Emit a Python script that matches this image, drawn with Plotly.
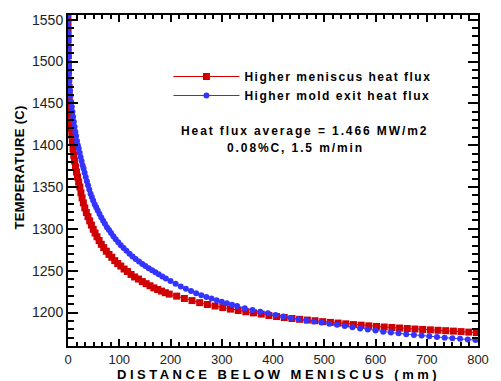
import plotly.graph_objects as go

# Surface temperature profiles down the mold (distance in mm, temperature in C)
meniscus_x = [0, 0.1, 0.2, 0.3, 0.45, 0.6, 0.8, 1.0, 1.3, 1.6, 2.0, 2.5,
              3.2, 4.2, 5.2, 6.3, 7.5, 8.6, 9.8, 11.2, 12.8, 14.6, 16.5, 18.5,
              20.8, 23.2, 25.3, 27.5, 30, 32.8, 35.8, 39, 42.3, 45.7, 49.2, 52.8,
              56.6, 60.7, 65, 69.7, 74.8, 80, 85.5, 91.2, 97, 103, 109.5, 116,
              123, 130, 137.5, 145, 152.5, 160, 167.5, 175, 182.5, 190, 197.5,
              212, 227, 242, 257, 272, 287, 302, 317, 332, 347, 362, 377, 392,
              407, 422, 437, 452, 467, 482, 497, 512, 527, 542, 557, 572, 587,
              602, 617, 632, 647, 662, 677, 692, 707, 722, 737, 752, 767, 782, 797]
meniscus_t = [1555, 1545, 1535, 1526, 1516, 1507, 1497, 1488, 1478, 1469, 1460, 1452,
              1444, 1436, 1428, 1420, 1412, 1404, 1396, 1388, 1381, 1374, 1368, 1362,
              1356, 1350, 1343, 1337, 1331, 1325, 1319.5, 1314.5, 1309.5, 1304.5, 1299.5, 1295,
              1290.5, 1286, 1281.5, 1277.5, 1273.3, 1269.5, 1266, 1262, 1258.5, 1255.5, 1252, 1249,
              1245.5, 1242.5, 1240, 1237, 1234.5, 1232, 1229.5, 1227.5, 1225.6, 1223.7, 1222,
              1219.6, 1216.8, 1214.3, 1211.8, 1209.6, 1207.8, 1205.9, 1204.1, 1202.4, 1200.9, 1199.6, 1198.1, 1196.5,
              1195.2, 1194, 1192.9, 1191.9, 1191, 1190.2, 1189.1, 1188.2, 1187.4, 1186.5, 1185.6, 1184.9, 1184.1,
              1183.4, 1182.7, 1182.1, 1181.5, 1180.9, 1180.3, 1179.8, 1179.3, 1178.8, 1178.3, 1177.8, 1177.2, 1176.6, 1176]

exit_x = [0, 0.1, 0.2, 0.35, 0.5, 0.7, 0.9, 1.1, 1.4, 1.7, 2.1, 2.6, 3.2, 4, 5,
          6.2, 7.4, 8.6, 10, 11.4, 12.8, 14.3, 15.8, 17.5, 19.2, 20.9, 22.8, 24.6, 26.5,
          28.4, 30.4, 32.4, 34.6, 36.8, 39, 41.5, 44, 46.5, 49,
          52, 55, 58, 61.5, 65, 68.5, 72, 76, 80, 84, 88.5, 93, 98, 103, 108.5, 114,
          120, 126, 132, 138.5, 145, 151, 157.5, 164, 170.5, 177, 184, 191,
          200, 210, 220, 230, 240, 250, 260, 270, 280, 290, 300, 310, 320, 330,
          345, 360, 375, 390, 405, 420, 435, 450, 465, 480, 495, 510, 525, 540, 555,
          570, 585, 600, 615, 630, 645, 660, 675, 690, 705, 720, 735, 750, 765, 780, 795]
exit_t = [1555, 1548, 1541, 1534, 1527, 1520, 1513, 1506, 1499, 1492, 1485, 1478, 1471, 1465, 1459,
          1452, 1446, 1440, 1434, 1428, 1422, 1416, 1411, 1405, 1400, 1396, 1391, 1386, 1381,
          1376, 1372, 1367, 1362, 1357, 1352, 1347, 1342, 1338, 1334,
          1329.5, 1325.7, 1322, 1317.8, 1313.7, 1309.7, 1306, 1302, 1298.5, 1295, 1291.3, 1287.7, 1284, 1280.5, 1277, 1273.7,
          1270.3, 1267, 1264, 1261, 1258, 1255.6, 1253, 1250.5, 1248, 1245.7, 1243.2, 1240.7,
          1237.6, 1234.3, 1231.2, 1228.3, 1225.6, 1223.1, 1220.8, 1218.7, 1216.7, 1214.8, 1213, 1211.2, 1209.4, 1207.7,
          1205.2, 1202.9, 1200.8, 1199, 1197, 1195.2, 1193.5, 1192, 1190.6, 1189.4, 1188, 1186.7, 1185.3, 1183.8, 1182.4,
          1181, 1179.7, 1178.4, 1177.1, 1176.1, 1175.1, 1174.1, 1173.2, 1172.4, 1171.6, 1170.8, 1170, 1169.3, 1168.6, 1167.8, 1167.1]

series_names = ["Higher meniscus heat flux", "Higher mold exit heat flux"]
note_lines = ["Heat flux average = 1.466 MW/m2", "0.08%C, 1.5 m/min"]
x_title = "DISTANCE BELOW MENISCUS (mm)"
y_title = "TEMPERATURE (C)"

RED = "#d00000"
BLUE = "#3434ff"
FONT = "Liberation Sans, Arial, sans-serif"


def spaced(text, px):
    return f'<span style="letter-spacing:{px}px">{text}</span>'


fig = go.Figure()
fig.add_trace(go.Scatter(
    x=meniscus_x, y=meniscus_t, mode="lines+markers", name=spaced(series_names[0], 1.5),
    line=dict(color=RED, width=1),
    marker=dict(symbol="square", size=7, color=RED),
))
fig.add_trace(go.Scatter(
    x=exit_x, y=exit_t, mode="lines+markers", name=spaced(series_names[1], 1.5),
    line=dict(color=BLUE, width=1),
    marker=dict(symbol="circle", size=6, color=BLUE),
))

axis_common = dict(
    showline=True, linecolor="black", linewidth=2, mirror="ticks",
    ticks="inside", tickcolor="black", tickwidth=2,
    showgrid=False, zeroline=False,
)

fig.update_xaxes(
    range=[0, 800], tick0=0, dtick=100, ticklen=7,
    tickfont=dict(family=FONT, size=13, color="#222222"),
    minor=dict(dtick=100 / 6, ticks="inside", ticklen=4, tickwidth=1.5, tickcolor="black"),
    **axis_common,
)
fig.update_yaxes(
    range=[1160, 1555.6], tick0=1200, dtick=50, ticklen=10,
    tickfont=dict(family=FONT, size=14, color="#222222"),
    minor=dict(dtick=10, ticks="inside", ticklen=6, tickwidth=1.5, tickcolor="black"),
    **axis_common,
)

annotations = [
    dict(text="<b>" + spaced(x_title, 3.5) + "</b>", x=0.513, y=-0.087, xref="paper", yref="paper",
         showarrow=False, xanchor="center", yanchor="middle",
         font=dict(family=FONT, size=13, color="black")),
    dict(text="<b>" + spaced(y_title, 0.3) + "</b>", x=-0.118, y=0.538, xref="paper", yref="paper",
         showarrow=False, textangle=-90, xanchor="center", yanchor="middle",
         font=dict(family=FONT, size=13, color="black")),
    dict(text="<b>" + spaced(note_lines[0], 1.9) + "</b>", x=0.578, y=0.649, xref="paper", yref="paper",
         showarrow=False, xanchor="center", yanchor="middle",
         font=dict(family=FONT, size=12, color="black")),
    dict(text="<b>" + spaced(note_lines[1], 1.9) + "</b>", x=0.555, y=0.598, xref="paper", yref="paper",
         showarrow=False, xanchor="center", yanchor="middle",
         font=dict(family=FONT, size=12, color="black")),
]

fig.update_layout(
    width=501, height=381,
    margin=dict(l=68, r=13, t=13, b=35),
    paper_bgcolor="white", plot_bgcolor="white",
    showlegend=True,
    legend=dict(
        x=0.245, y=0.858, xanchor="left", yanchor="top",
        bgcolor="rgba(0,0,0,0)", borderwidth=0,
        itemwidth=66, tracegroupgap=0,
        font=dict(family=FONT, size=12, color="black", weight="bold"),
    ),
    annotations=annotations,
)

fig.write_html("out.html")
